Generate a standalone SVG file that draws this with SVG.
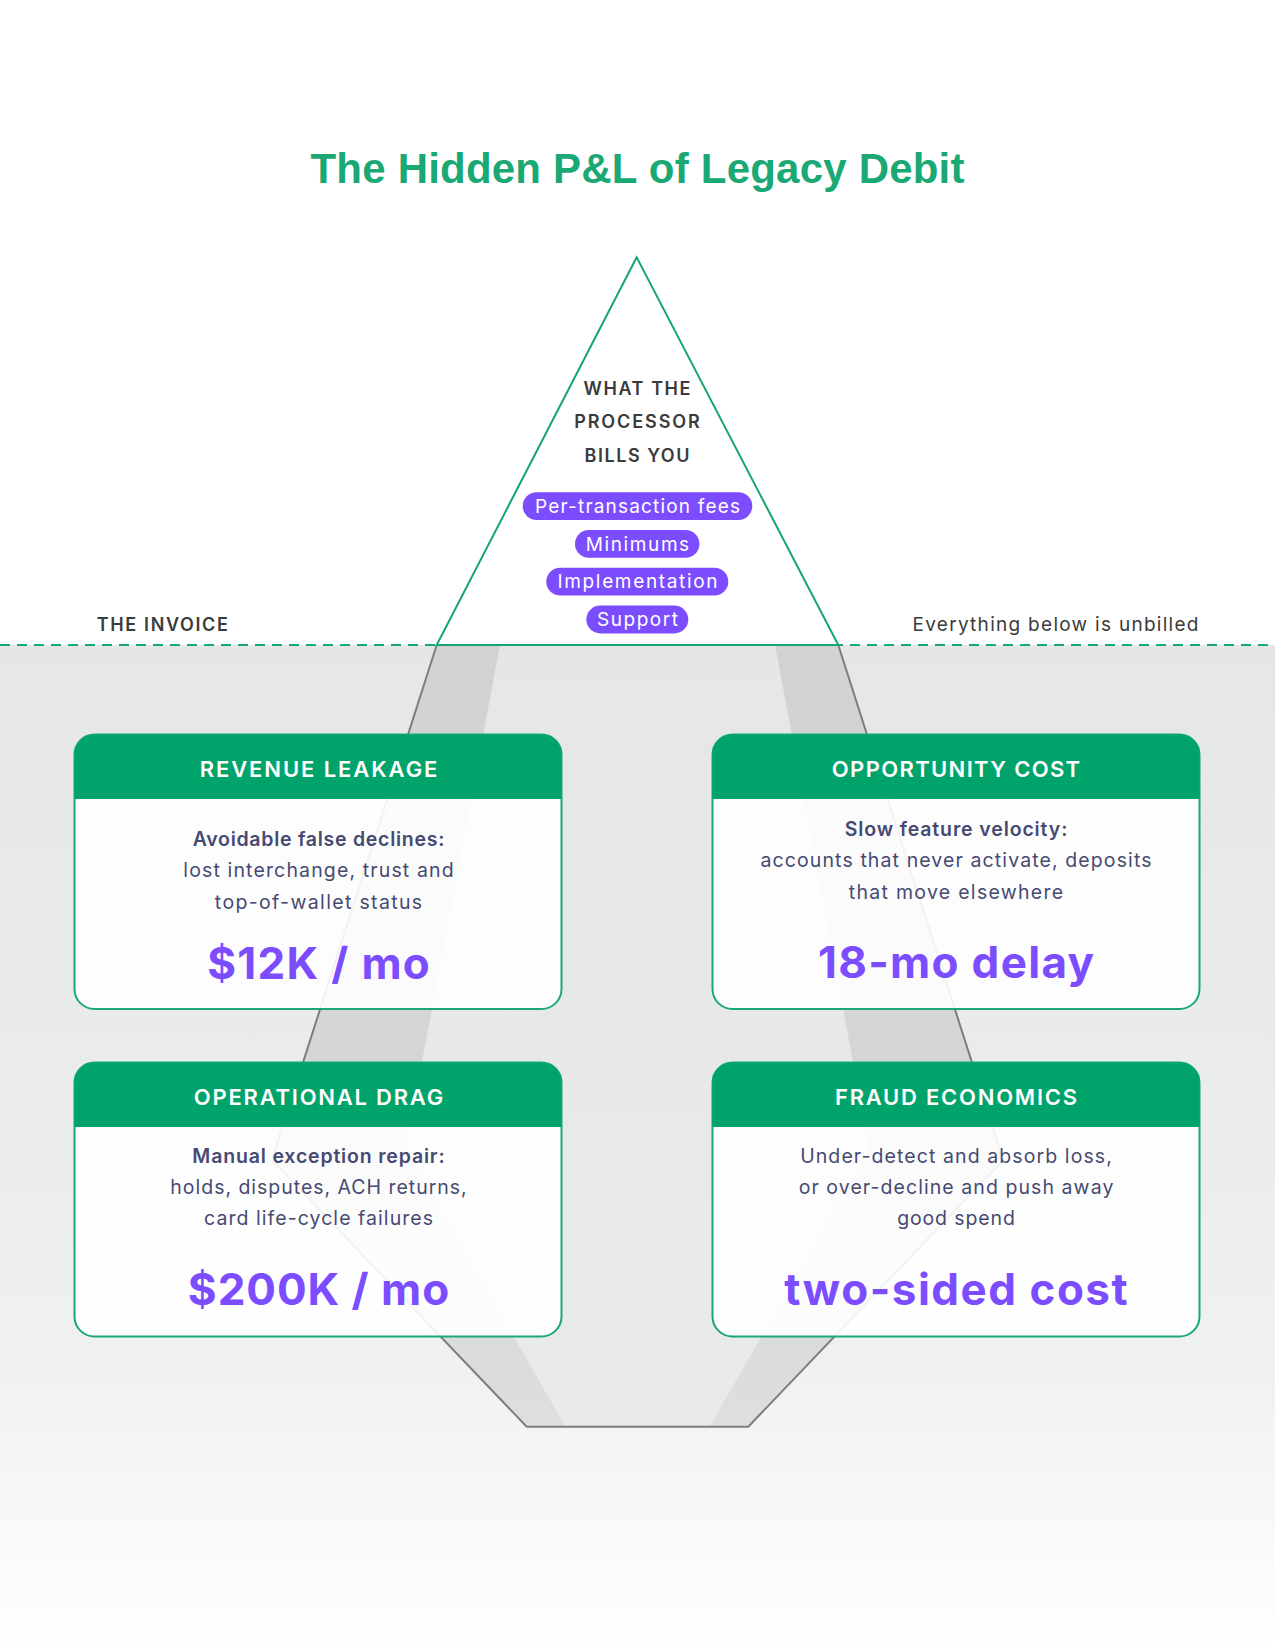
<svg xmlns="http://www.w3.org/2000/svg" width="1275" height="1650" viewBox="0 0 1275 1650">
  <defs>
    <linearGradient id="sea" x1="0" y1="645" x2="0" y2="1650" gradientUnits="userSpaceOnUse">
      <stop offset="0" stop-color="#e5e6e8"/>
      <stop offset="0.5" stop-color="#ebeced"/>
      <stop offset="0.73" stop-color="#f0f1f2"/>
      <stop offset="1" stop-color="#ffffff"/>
    </linearGradient>
    <linearGradient id="core" x1="0" y1="645" x2="0" y2="1427" gradientUnits="userSpaceOnUse">
      <stop offset="0" stop-color="#e5e6e8"/>
      <stop offset="1" stop-color="#e9eaeb"/>
    </linearGradient>
    <style>
      .title { font-family: "Liberation Sans", Arial, sans-serif; font-weight: 700; font-size: 42px; fill: #1aa874; }
      .tri-label { font-family: Inter, "Liberation Sans", sans-serif; font-weight: 600; font-size: 18px; fill: #3b3b3b; }
      .side { font-family: Inter, "Liberation Sans", sans-serif; font-size: 19px; fill: #3b3b3b; }
      .side-b { font-family: Inter, "Liberation Sans", sans-serif; font-weight: 600; font-size: 18px; fill: #3b3b3b; }
      .pill { fill: #7c4dff; }
      .pill-t { font-family: Inter, "Liberation Sans", sans-serif; font-size: 19px; fill: #ffffff; }
      .card-body { fill: #ffffff; fill-opacity: 0.9; stroke: #1aa874; stroke-width: 2; }
      .card-head { fill: #00a36a; }
      .head-t { font-family: Inter, "Liberation Sans", sans-serif; font-weight: 600; font-size: 22px; fill: #ffffff; }
      .lead { font-family: Inter, "Liberation Sans", sans-serif; font-weight: 600; font-size: 19.5px; fill: #464a72; }
      .body { font-family: Inter, "Liberation Sans", sans-serif; font-size: 19.5px; fill: #464a72; }
      .val { font-family: Inter, "Liberation Sans", sans-serif; font-weight: 700; font-size: 44px; fill: #7c4dff; }
    </style>
  </defs>

  <rect x="0" y="0" width="1275" height="1650" fill="#ffffff"/>
  <rect x="0" y="645" width="1275" height="1005" fill="url(#sea)"/>

  <text class="title" x="637.5" y="183" text-anchor="middle" textLength="654">The Hidden P&amp;L of Legacy Debit</text>

  <g id="iceberg-base">
    <polygon points="436.7,645 271.8,1160 526.7,1426.7 748.3,1426.7 1003.2,1160 838.3,645" fill="#000000" fill-opacity="0.085"/>
    <polygon points="500,645 405.6,1149.7 565.7,1426.7 709.3,1426.7 869.4,1149.7 775,645" fill="url(#core)"/>
    <polyline points="436.7,645 271.8,1160 526.7,1426.7 748.3,1426.7 1003.2,1160 838.3,645" fill="none" stroke="#7d7d7d" stroke-width="2" stroke-linejoin="miter"/>
  </g>

  <g id="waterline">
    <line x1="0" y1="645" x2="1275" y2="645" stroke="#1aa874" stroke-width="2" stroke-dasharray="10 7"/>
    <text class="side-b" x="96.8" y="631" textLength="131">THE INVOICE</text>
    <text class="side" x="912.5" y="631" textLength="286">Everything below is unbilled</text>
  </g>

  <g id="invoice-tip">
    <polygon points="636.7,257.3 436.7,645 838.3,645" fill="#ffffff" stroke="#16a472" stroke-width="2" stroke-linejoin="miter"/>
    <text class="tri-label" x="637" y="395" text-anchor="middle" textLength="107">WHAT THE</text>
    <text class="tri-label" x="637" y="428.3" text-anchor="middle" textLength="125.7">PROCESSOR</text>
    <text class="tri-label" x="637" y="461.7" text-anchor="middle" textLength="105">BILLS YOU</text>
    <rect class="pill" x="522.7" y="492.3" width="229.6" height="27.8" rx="13.9"/>
    <text class="pill-t" x="637.5" y="512.8" text-anchor="middle" textLength="205">Per-transaction fees</text>
    <rect class="pill" x="575" y="530" width="124.4" height="27.8" rx="13.9"/>
    <text class="pill-t" x="637.5" y="550.5" text-anchor="middle" textLength="103.3">Minimums</text>
    <rect class="pill" x="546.3" y="567.8" width="182" height="27.8" rx="13.9"/>
    <text class="pill-t" x="637.5" y="588.3" text-anchor="middle" textLength="160">Implementation</text>
    <rect class="pill" x="586.3" y="605.6" width="102" height="27.8" rx="13.9"/>
    <text class="pill-t" x="637.5" y="626.1" text-anchor="middle" textLength="81">Support</text>
  </g>

  <g id="revenue-leakage">
    <rect class="card-body" x="74.5" y="734.5" width="487" height="274.5" rx="20"/>
    <path class="card-head" d="M74.5,799 V754.5 A20,20 0 0 1 94.5,734.5 H541.5 A20,20 0 0 1 561.5,754.5 V799 Z"/>
    <text class="head-t" x="318.5" y="777.3" text-anchor="middle" textLength="237.7">REVENUE LEAKAGE</text>
    <text class="lead" x="318.5" y="846" text-anchor="middle" textLength="251.7">Avoidable false declines:</text>
    <text class="body" x="318.5" y="877.3" text-anchor="middle" textLength="270.3">lost interchange, trust and</text>
    <text class="body" x="318.5" y="908.7" text-anchor="middle" textLength="207.3">top-of-wallet status</text>
    <text class="val" x="318.5" y="979.3" text-anchor="middle" textLength="222.7">$12K / mo</text>
  </g>

  <g id="opportunity-cost">
    <rect class="card-body" x="712.5" y="734.5" width="487" height="274.5" rx="20"/>
    <path class="card-head" d="M712.5,799 V754.5 A20,20 0 0 1 732.5,734.5 H1179.5 A20,20 0 0 1 1199.5,754.5 V799 Z"/>
    <text class="head-t" x="956" y="777.3" text-anchor="middle" textLength="248.3">OPPORTUNITY COST</text>
    <text class="lead" x="956" y="836" text-anchor="middle" textLength="222.7">Slow feature velocity:</text>
    <text class="body" x="956" y="867.3" text-anchor="middle" textLength="391">accounts that never activate, deposits</text>
    <text class="body" x="956" y="898.7" text-anchor="middle" textLength="214.3">that move elsewhere</text>
    <text class="val" x="956" y="978.3" text-anchor="middle" textLength="276">18-mo delay</text>
  </g>

  <g id="operational-drag">
    <rect class="card-body" x="74.5" y="1062.5" width="487" height="274" rx="20"/>
    <path class="card-head" d="M74.5,1127 V1082.5 A20,20 0 0 1 94.5,1062.5 H541.5 A20,20 0 0 1 561.5,1082.5 V1127 Z"/>
    <text class="head-t" x="318.5" y="1105" text-anchor="middle" textLength="249.3">OPERATIONAL DRAG</text>
    <text class="lead" x="318.5" y="1163.3" text-anchor="middle" textLength="252.3">Manual exception repair:</text>
    <text class="body" x="318.5" y="1194" text-anchor="middle" textLength="296.3">holds, disputes, ACH returns,</text>
    <text class="body" x="318.5" y="1225.3" text-anchor="middle" textLength="229">card life-cycle failures</text>
    <text class="val" x="318.5" y="1305" text-anchor="middle" textLength="261.3">$200K / mo</text>
  </g>

  <g id="fraud-economics">
    <rect class="card-body" x="712.5" y="1062.5" width="487" height="274" rx="20"/>
    <path class="card-head" d="M712.5,1127 V1082.5 A20,20 0 0 1 732.5,1062.5 H1179.5 A20,20 0 0 1 1199.5,1082.5 V1127 Z"/>
    <text class="head-t" x="956" y="1105" text-anchor="middle" textLength="242">FRAUD ECONOMICS</text>
    <text class="body" x="956" y="1162.7" text-anchor="middle" textLength="311.7">Under-detect and absorb loss,</text>
    <text class="body" x="956" y="1194" text-anchor="middle" textLength="314.7">or over-decline and push away</text>
    <text class="body" x="956" y="1225.3" text-anchor="middle" textLength="117.7">good spend</text>
    <text class="val" x="956" y="1305" text-anchor="middle" textLength="343.3">two-sided cost</text>
  </g>
</svg>
